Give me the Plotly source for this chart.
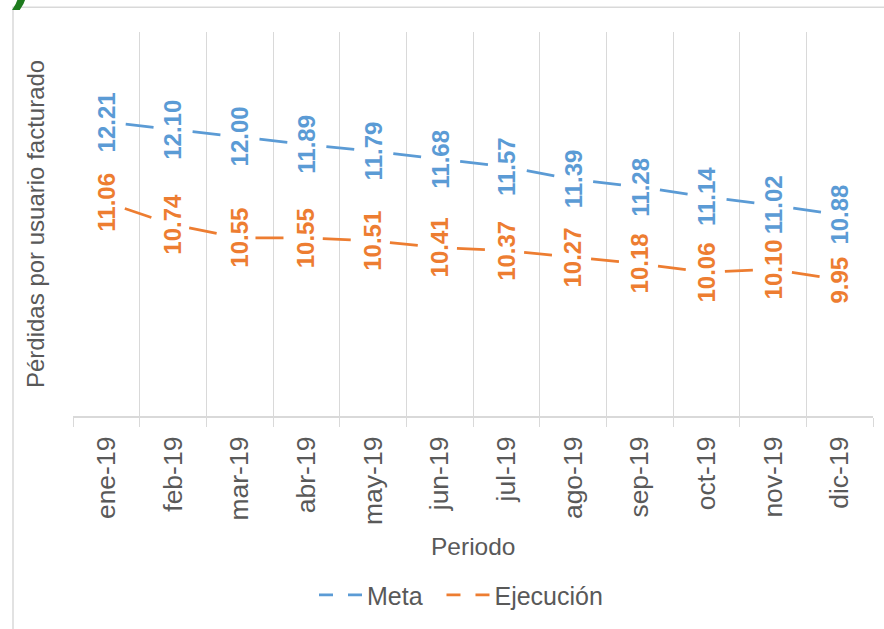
import plotly.graph_objects as go

categories = ["ene-19", "feb-19", "mar-19", "abr-19", "may-19", "jun-19",
              "jul-19", "ago-19", "sep-19", "oct-19", "nov-19", "dic-19"]
meta = [12.21, 12.10, 12.00, 11.89, 11.79, 11.68, 11.57, 11.39, 11.28, 11.14, 11.02, 10.88]
ejecucion = [11.06, 10.74, 10.55, 10.55, 10.51, 10.41, 10.37, 10.27, 10.18, 10.06, 10.10, 9.95]

BLUE = "#5B9BD5"
ORANGE = "#ED7D31"
GRAY = "#595959"
GRID = "#D9D9D9"
FONT = "Liberation Sans, Arial, sans-serif"

W, H = 884, 629
L, R, T, B = 73, 11, 32, 211
PW, PH = W - L - R, H - T - B

def px_x(p):
    return (p - L) / PW

def px_y(p):
    return (H - B - p) / PH

LINE_DASH = "0px,19.5px,28px,19.8px"

fig = go.Figure()
for name, vals, col in [("Meta", meta, BLUE), ("Ejecución", ejecucion, ORANGE)]:
    fig.add_trace(go.Scatter(x=categories, y=vals, mode="lines", name=name,
                             line=dict(color=col, width=2.75, dash=LINE_DASH),
                             showlegend=False, hoverinfo="skip"))
for name, col in [("Meta\u00a0\u00a0", BLUE), ("Ejecución", ORANGE)]:
    fig.add_trace(go.Scatter(x=[None], y=[None], mode="lines", name=name,
                             line=dict(color=col, width=2.75, dash="14px,15px")))

annotations = []
for vals, col in [(meta, BLUE), (ejecucion, ORANGE)]:
    for c, v in zip(categories, vals):
        annotations.append(dict(x=c, y=v, xref="x", yref="y", text=f"{v:.2f}",
                                showarrow=False, textangle=-90,
                                xanchor="center", yanchor="middle",
                                font=dict(family=FONT, size=24, color=col, weight="bold")))

annotations.append(dict(x=px_x(35), y=px_y(225), xref="paper", yref="paper",
                        text="Pérdidas por usuario facturado", showarrow=False,
                        textangle=-90, xanchor="center", yanchor="middle",
                        font=dict(family=FONT, size=24, color=GRAY)))
annotations.append(dict(x=0.5, y=px_y(549), xref="paper", yref="paper",
                        text="Periodo", showarrow=False,
                        xanchor="center", yanchor="middle",
                        font=dict(family=FONT, size=24.5, color=GRAY)))
annotations.append(dict(x=px_x(21), y=px_y(12), xref="paper", yref="paper",
                        text=")", showarrow=False,
                        xanchor="center", yanchor="bottom",
                        font=dict(family=FONT, size=56, color="#1E7B1E", weight="bold")))

fig.update_layout(
    width=W, height=H,
    margin=dict(l=L, r=R, t=T, b=B),
    paper_bgcolor="white", plot_bgcolor="white",
    font=dict(family=FONT, color=GRAY),
    annotations=annotations,
    shapes=[dict(type="rect", xref="paper", yref="paper",
                 x0=px_x(13), x1=px_x(W + 20), y0=px_y(H + 20), y1=px_y(7),
                 line=dict(color=GRID, width=1.5), layer="below")],
    legend=dict(orientation="h", x=px_x(461), xanchor="center",
                y=px_y(598), yanchor="middle",
                font=dict(family=FONT, size=25, color=GRAY),
                itemwidth=43,
                bgcolor="rgba(0,0,0,0)"),
    xaxis=dict(type="category", range=[-0.5, 11.5], tickson="boundaries",
               showgrid=True, gridcolor=GRID, gridwidth=1.3,
               showline=True, linecolor=GRID, linewidth=2,
               ticks="outside", ticklen=9, tickcolor=GRID, tickwidth=1.3,
               ticklabelstandoff=8,
               tickangle=-90, tickfont=dict(family=FONT, size=26.5, color=GRAY)),
    yaxis=dict(range=[8, 13.5], visible=False),
)

fig.write_html("out.html", config={"displayModeBar": False},
               post_script="document.body.style.margin='0';")
